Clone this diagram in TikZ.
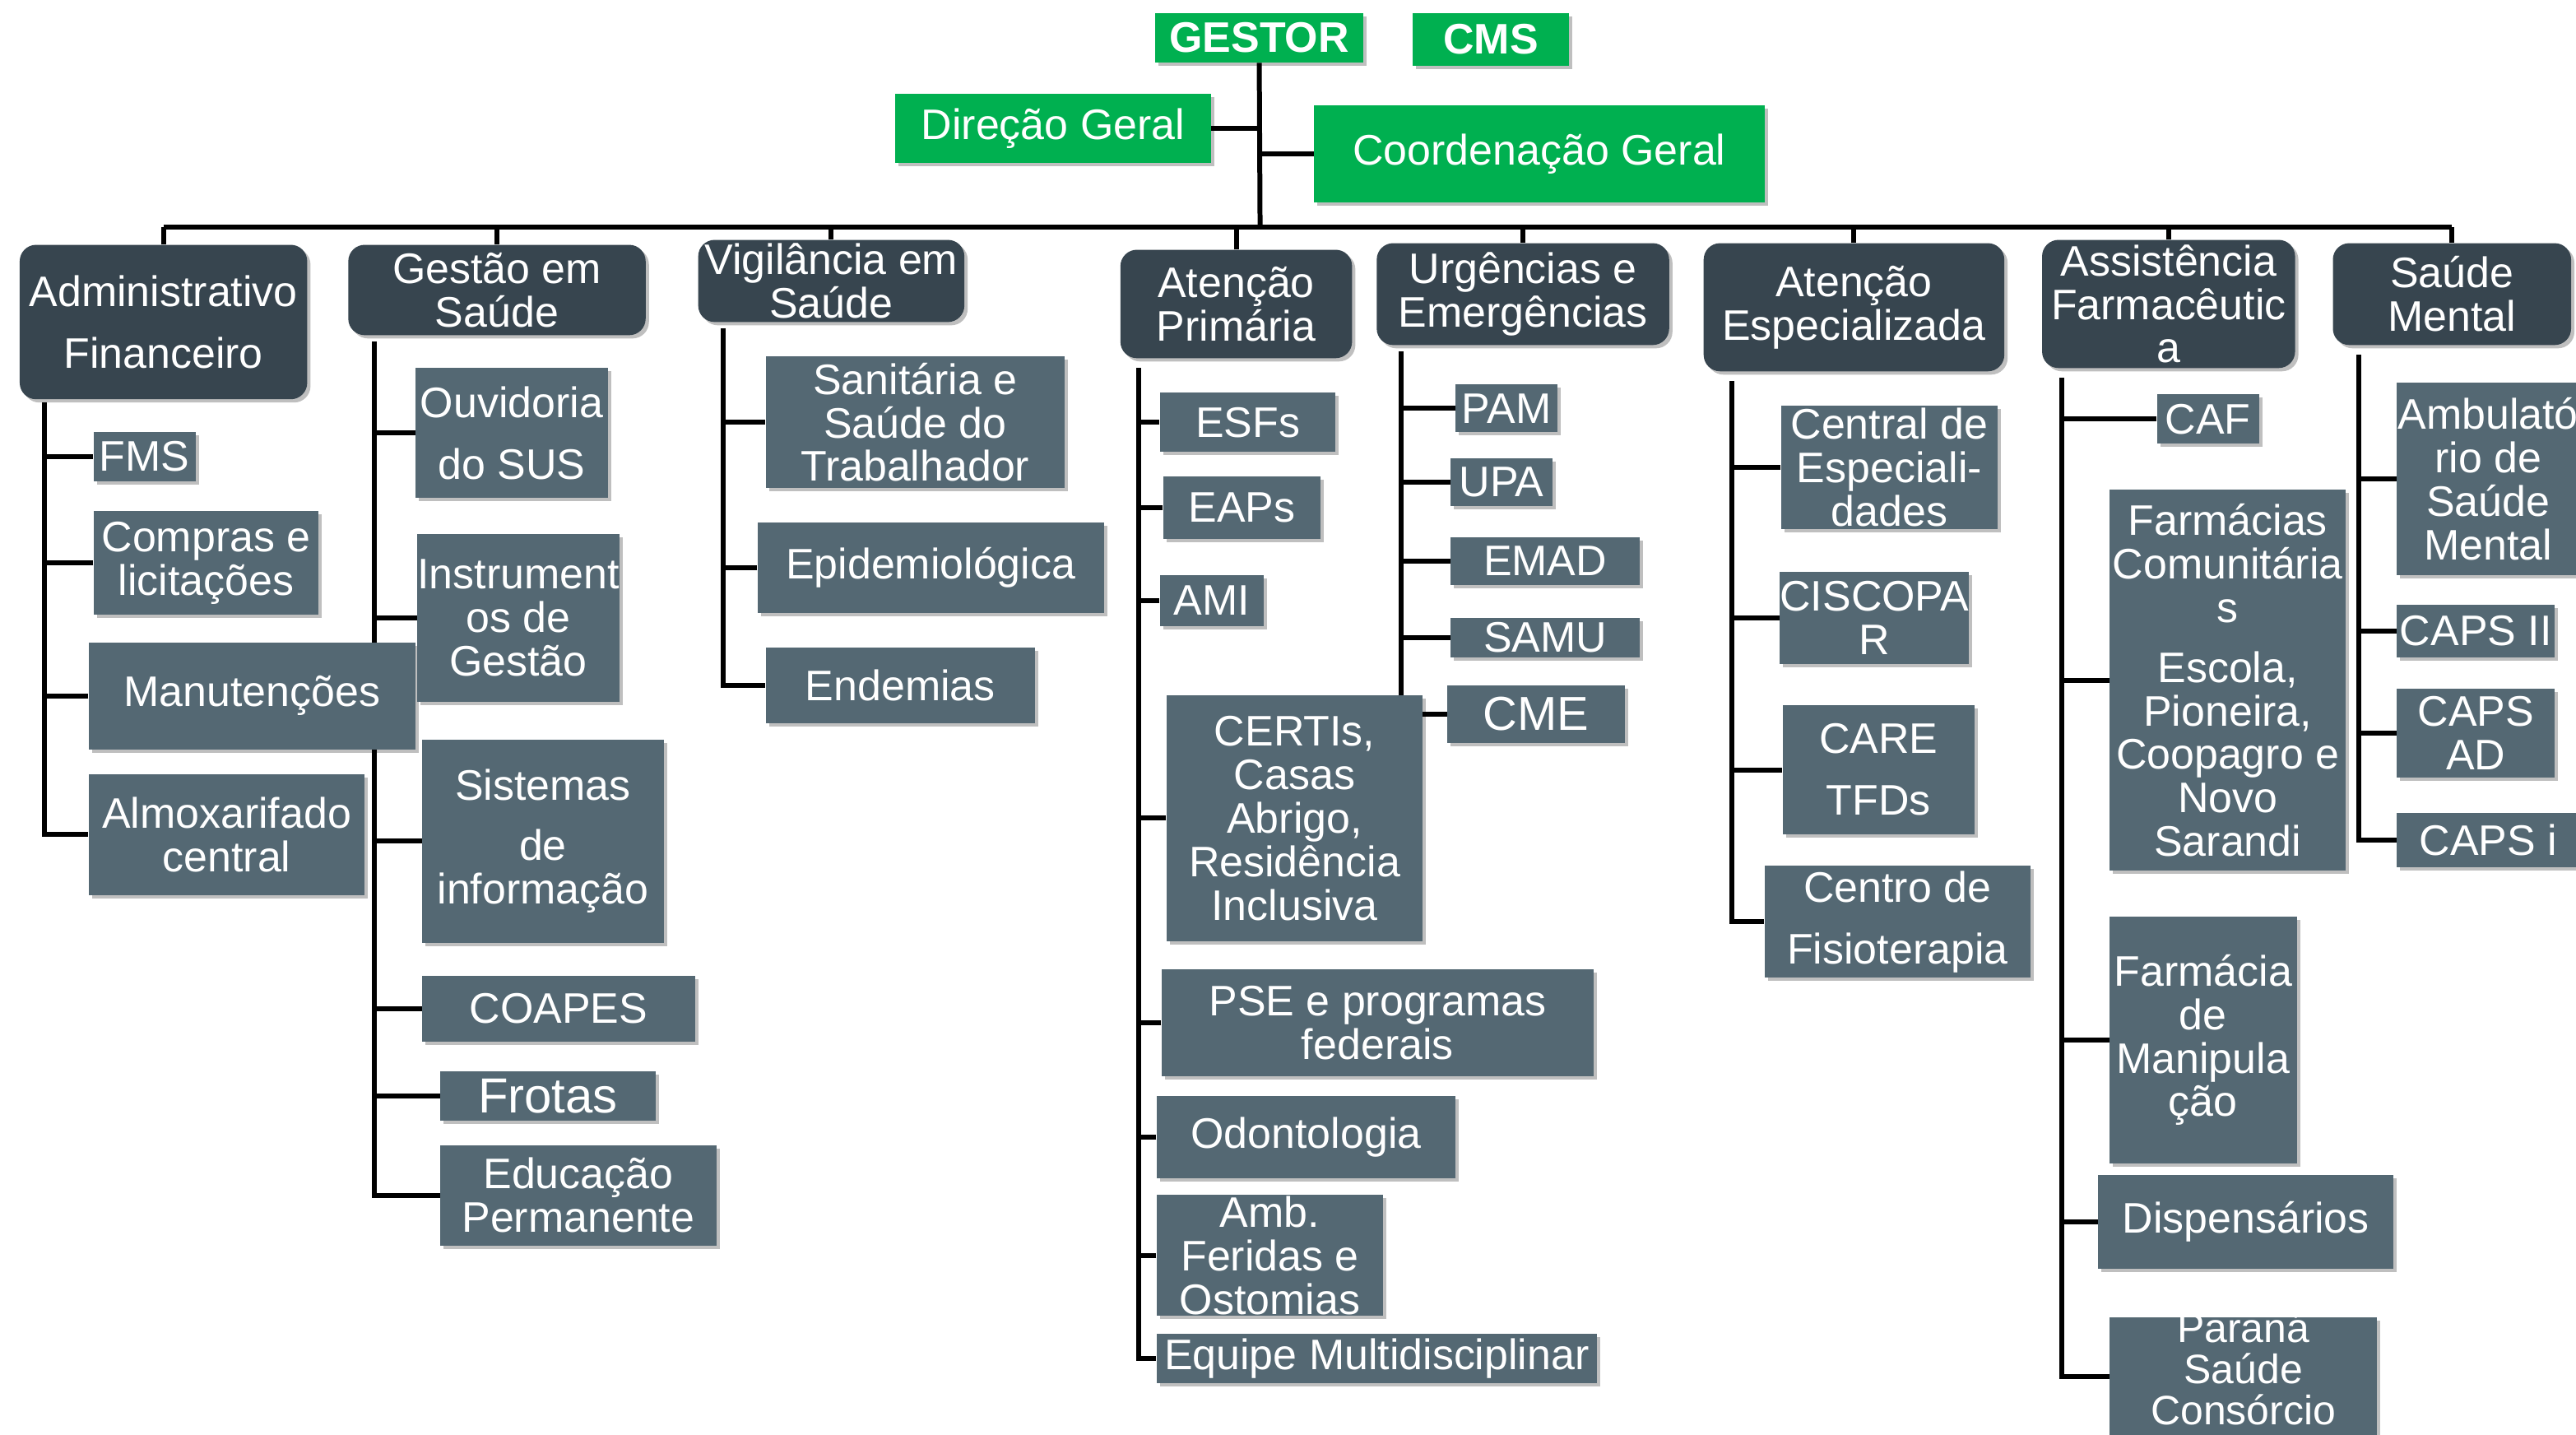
\documentclass[tikz,border=0pt]{standalone}
\usepackage{fontspec}
\setmainfont{Liberation Sans}
\usetikzlibrary{shadows,backgrounds}
\definecolor{gre}{RGB}{0,176,80}
\definecolor{hdrc}{RGB}{55,69,79}
\definecolor{kidc}{RGB}{84,104,115}
\tikzset{
  base/.style={inner sep=0pt, align=center, text=white, font=\fontsize{26}{26.5}\selectfont},
  sz/.style 2 args={minimum width=#1pt, minimum height=#2pt},
  shd/.style={drop shadow={shadow xshift=2pt, shadow yshift=-2pt, opacity=0.25, fill=black}},
  grn/.style={base, fill=gre, shd},
  hdr/.style={base, fill=hdrc, rounded corners=10pt, shd},
  kid/.style={base, fill=kidc, shd},
  wire/.style={line width=3pt, black},
}
\begin{document}
\begin{tikzpicture}[x=1pt, y=-1pt]
\useasboundingbox (0,0) rectangle (1568,873);
% top
\node[grn, sz={127}{30}] (gestor) at (766.5,23) {\textbf{GESTOR}};
\node[grn, sz={95}{32}] (cms) at (907.5,24) {\textbf{CMS}};
\node[grn, sz={192}{42}] (dir) at (641,78) {Direção Geral};
\node[grn, sz={274}{59}] (coord) at (937,93.5) {Coordenação Geral};
% headers
\node[hdr, sz={175}{94}] (adm) at (99.5,196) {Administrativo\\[11pt]Financeiro};
\node[hdr, sz={181}{55}] (ges) at (302.5,176.5) {Gestão em\\Saúde};
\node[hdr, sz={162}{50}] (vig) at (506,171) {Vigilância em\\Saúde};
\node[hdr, sz={141}{66}] (ap) at (752.5,185) {Atenção\\Primária};
\node[hdr, sz={178}{62}] (urg) at (927,179) {Urgências e\\Emergências};
\node[hdr, sz={183}{78}] (ae) at (1128.5,187) {Atenção\\Especializada};
\node[hdr, sz={154}{78}] (af) at (1320,185) {Assistência\\Farmacêutic\\a};
\node[hdr, sz={145}{62}] (sm) at (1492.5,179) {Saúde\\Mental};
% col 1
\node[kid, sz={62}{30}] (fms) at (88,278) {FMS};
\node[kid, sz={137}{63}] (comp) at (125.5,342.5) {Compras e\\licitações};
\node[kid, sz={199}{65}] (man) at (153.5,423.5) {Manutenções};
\node[kid, sz={168}{74}] (alm) at (138,508) {Almoxarifado\\central};
% col 2
\node[kid, sz={117}{79}] (ouv) at (311.5,263.5) {Ouvidoria\\[11pt]do SUS};
\node[kid, sz={119}{102}] (ins) at (315.5,376) {Instrument\\os de\\Gestão};
\node[kid, sz={147}{124}] (sis) at (330.5,512) {Sistemas\\[10pt]de\\informação};
\node[kid, sz={166}{40}] (coa) at (340,614) {COAPES};
\node[kid, sz={131}{30}, font=\fontsize{30}{30}\selectfont] (fro) at (333.5,667) {Frotas};
\node[kid, sz={168}{61}] (edu) at (352,727.5) {Educação\\Permanente};
% col 3
\node[kid, sz={182}{80}] (san) at (557,257) {Sanitária e\\Saúde do\\Trabalhador};
\node[kid, sz={211}{55}] (epi) at (566.5,345.5) {Epidemiológica};
\node[kid, sz={164}{46}] (endm) at (548,417) {Endemias};
% col 4
\node[kid, sz={107}{36}] (esf) at (759.5,257) {ESFs};
\node[kid, sz={96}{38}] (eap) at (756,309) {EAPs};
\node[kid, sz={63}{31}] (ami) at (737.5,365.5) {AMI};
\node[kid, sz={156}{150}] (cer) at (788,498) {CERTIs,\\Casas\\Abrigo,\\Residência\\Inclusiva};
\node[kid, sz={263}{65}] (pse) at (838.5,622.5) {PSE e programas\\federais};
\node[kid, sz={182}{50}] (odo) at (795,692) {Odontologia};
\node[kid, sz={138}{74}] (amb) at (773,764) {Amb.\\Feridas e\\Ostomias};
\node[kid, sz={268}{30}] (equ) at (838,827) {Equipe Multidisciplinar};
% col 5
\node[kid, sz={62}{29}] (pam) at (917,248.5) {PAM};
\node[kid, sz={62}{29}] (upa) at (914,293.5) {UPA};
\node[kid, sz={115}{29}] (ema) at (940.5,341.5) {EMAD};
\node[kid, sz={115}{24}] (sam) at (940.5,388) {SAMU};
\node[kid, sz={108}{35}, font=\fontsize{29}{29}\selectfont] (cme) at (935,434.5) {CME};
% col 6
\node[kid, sz={132}{75}] (cen) at (1150,284.5) {Central de\\Especiali-\\dades};
\node[kid, sz={114}{56}] (cis) at (1141,376) {CISCOPA\\R};
\node[kid, sz={117}{79}] (car) at (1143.5,468.5) {CARE\\[11pt]TFDs};
\node[kid, sz={162}{68}] (fis) at (1155,561) {Centro de\\[11pt]Fisioterapia};
% col 7
\node[kid, sz={62}{30}] (caf) at (1344,255) {CAF};
\node[kid, sz={144}{232}] (far) at (1356,414) {Farmácias\\Comunitária\\s\\[10pt]Escola,\\Pioneira,\\Coopagro e\\Novo\\Sarandi};
\node[kid, sz={114}{150}] (man2) at (1341,633) {Farmácia\\de\\Manipula\\ção};
\node[kid, sz={180}{57}] (dis) at (1367,743.5) {Dispensários};
\node[kid, sz={163}{72}] (par) at (1365.5,838) {};
\node[base, font=\fontsize{25}{25}\selectfont] (partxt) at (par.center) [yshift=5pt] {Paraná\\Saúde\\Consórcio};
% col 8
\node[kid, sz={111}{117}] (amb2) at (1514.5,291.5) {Ambulató\\rio de\\Saúde\\Mental};
\node[kid, sz={96}{32}] (cap2) at (1507,384) {CAPS II};
\node[kid, sz={96}{54}] (capad) at (1507,446) {CAPS\\AD};
\node[kid, sz={111}{33}] (capi) at (1514.5,511.5) {CAPS i};
% connectors
\begin{pgfonlayer}{background}
\fill[white] (0,0) rectangle (1568,873);
\coordinate (hub) at (767,138);
\draw[wire] (gestor.south) -- (hub);
\draw[wire] (dir.east) -- (dir.east -| hub);
\draw[wire] (coord.west) -- (coord.west -| hub);
\draw[wire] (adm.north |- hub) -- (sm.north |- hub);
\foreach \h in {adm,ges,vig,ap,urg,ae,af,sm}
  \draw[wire] (\h.north) -- (\h.north |- hub);
\coordinate (t1) at (27,245);
\coordinate (t2) at (228,208);
\coordinate (t3) at (440,200);
\coordinate (t4) at (693,224);
\coordinate (t5) at (853,214);
\coordinate (t6) at (1054,232);
\coordinate (t7) at (1255,230);
\coordinate (t8) at (1436,216);
\draw[wire] (t1) |- (alm.west);
\foreach \c in {fms,comp,man} \draw[wire] (\c.west) -- (\c.west -| t1);
\draw[wire] (t2) |- (edu.west);
\foreach \c in {ouv,ins,sis,coa,fro} \draw[wire] (\c.west) -- (\c.west -| t2);
\draw[wire] (t3) |- (endm.west);
\foreach \c in {san,epi} \draw[wire] (\c.west) -- (\c.west -| t3);
\draw[wire] (t4) |- (equ.west);
\foreach \c in {esf,eap,ami,cer,pse,odo,amb} \draw[wire] (\c.west) -- (\c.west -| t4);
\draw[wire] (t5) |- (cme.west);
\foreach \c in {pam,upa,ema,sam} \draw[wire] (\c.west) -- (\c.west -| t5);
\draw[wire] (t6) |- (fis.west);
\foreach \c in {cen,cis,car} \draw[wire] (\c.west) -- (\c.west -| t6);
\draw[wire] (t7) |- (par.west);
\foreach \c in {caf,far,man2,dis} \draw[wire] (\c.west) -- (\c.west -| t7);
\draw[wire] (t8) |- (capi.west);
\foreach \c in {amb2,cap2,capad} \draw[wire] (\c.west) -- (\c.west -| t8);
\end{pgfonlayer}
\end{tikzpicture}
\end{document}
